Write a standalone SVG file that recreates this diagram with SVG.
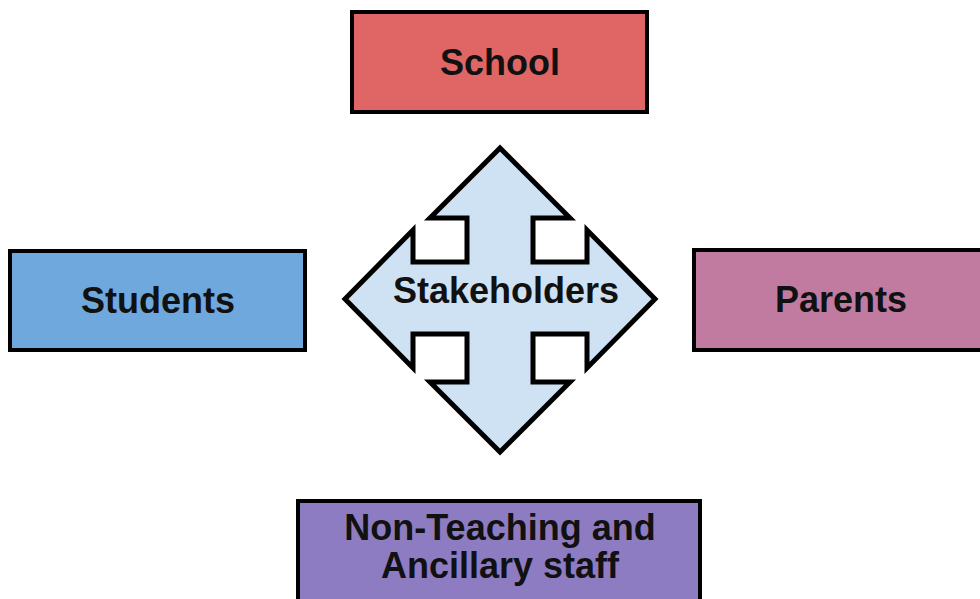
<svg xmlns="http://www.w3.org/2000/svg" width="980" height="599" viewBox="0 0 980 599">
<style>
.box{stroke:#000;stroke-width:4}
.lbl{font-family:"Liberation Sans",Arial,sans-serif;font-weight:bold;font-size:36px;fill:#111;text-anchor:middle}
</style>
<rect width="980" height="599" fill="#fff"/>
<g id="connectors">
<path id="stakeholders-arrow" d="M500,148 L570,218 L533,218 L533,262 L587,262 L587,230 L655,299 L587,368 L587,334 L533,334 L533,382 L570,382 L500,452 L430,382 L467,382 L467,334 L413,334 L413,368 L345,299 L413,230 L413,262 L467,262 L467,218 L430,218 Z" fill="#cfe2f3" stroke="#000" stroke-width="5" stroke-linejoin="miter"/>
<text class="lbl" x="506" y="303">Stakeholders</text>
</g>
<g id="school">
<rect class="box" x="352" y="12" width="295" height="100" fill="#e06666"/>
<text class="lbl" x="500" y="75">School</text>
</g>
<g id="students">
<rect class="box" x="10" y="251" width="295" height="99" fill="#6fa8dc"/>
<text class="lbl" x="158" y="313">Students</text>
</g>
<g id="parents">
<rect class="box" x="694" y="250" width="295" height="100" fill="#c27ba0"/>
<text class="lbl" x="841" y="312">Parents</text>
</g>
<g id="non-teaching">
<rect class="box" x="298" y="501" width="402" height="110" fill="#8e7cc3"/>
<text class="lbl" x="500" y="540">Non-Teaching and</text>
<text class="lbl" x="500" y="578">Ancillary staff</text>
</g>
</svg>
